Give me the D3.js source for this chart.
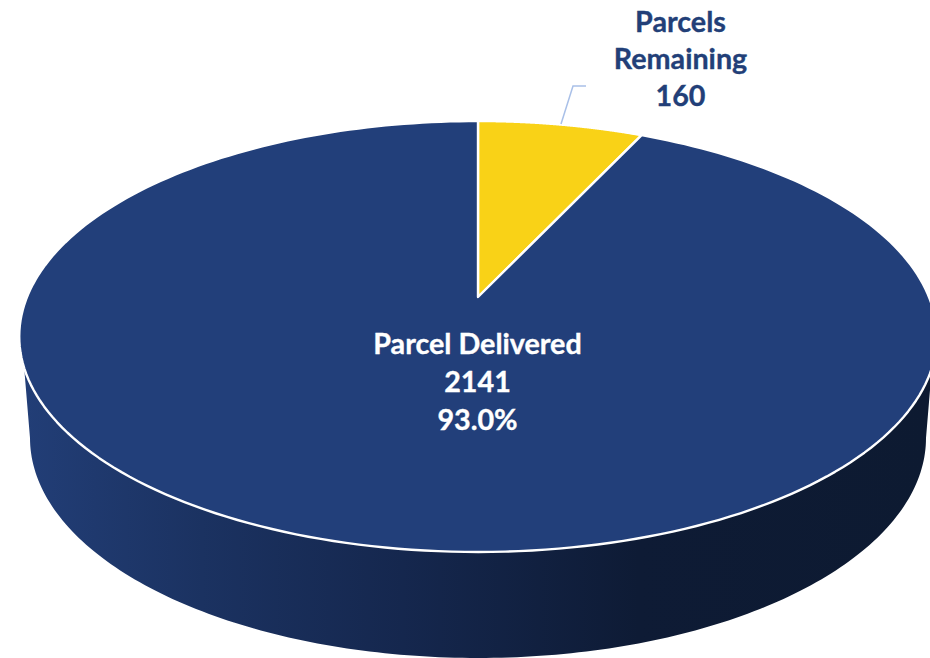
<!DOCTYPE html>
<html><head><meta charset="utf-8">
<script src="https://cdn.jsdelivr.net/npm/d3@7"></script>
<style>html,body{margin:0;padding:0;background:#fff;overflow:hidden}svg{display:block}text{font-family:Lato,"Open Sans",sans-serif;font-weight:700;text-anchor:middle}</style>
</head><body><div id="chart"></div>
<script>
const categories = ["Parcels Remaining", "Parcel Delivered"];
const values = [160, 2141];
const sliceColors = ["#f9d217", "#223f7a"];
const centerLabel = ["Parcel Delivered", "2141", "93.0%"];
const outerLabel = ["Parcels", "Remaining", "160"];

const W = 930, H = 658;
const svg = d3.select("#chart").append("svg").attr("width", W).attr("height", H);

// perspective projection of a unit disc onto the tilted pie top
const cx = 478, tipY = 297, R = 451, persp = -0.1833, ya = 153.8;
const project = (ang, r = 1) => {
  const u = r * Math.sin(ang), v = -r * Math.cos(ang), d = 1 + persp * v;
  return [cx + R * u / d, (ya * v + tipY) / d];
};
const line = d3.line();
const pie = d3.pie().sort(null)(values);
const arcPts = (a0, a1, n = 240) => d3.range(n + 1).map(i => project(a0 + (a1 - a0) * i / n));

// wall gradient
const defs = svg.append("defs");
const grad = defs.append("linearGradient").attr("id", "wall").attr("gradientUnits", "userSpaceOnUse")
  .attr("x1", 20).attr("x2", 930).attr("y1", 0).attr("y2", 0);
[[0, "#223e77"], [0.2, "#1b3261"], [0.42, "#15274e"], [0.68, "#0e1b35"], [1, "#0d1a31"]]
  .forEach(([o, c]) => grad.append("stop").attr("offset", o).attr("stop-color", c));

// wall: lower ellipse joined to the front part of the top rim
const bx = 478, by = 438, brx = 448, bry = 220;
const bottom = d3.range(180, -1, -1).map(i => {
  const t = Math.PI * i / 180;
  return [bx + brx * Math.cos(t), by + bry * Math.sin(t)];
});
const rimStart = Math.PI * 0.5 + 0.327, rimEnd = Math.PI * 1.5 - 0.327;
const wallPts = [...arcPts(rimStart, rimEnd), ...bottom];
svg.append("path").attr("d", line(wallPts) + "Z").attr("fill", "url(#wall)");

// top slices
pie.forEach((d, i) => {
  const pts = [project(0, 0), ...arcPts(d.startAngle, d.endAngle)];
  svg.append("path").attr("d", line(pts) + "Z")
    .attr("fill", sliceColors[i]).attr("stroke", "#fff").attr("stroke-width", 2.4).attr("stroke-linejoin", "round");
});

// leader
svg.append("path").attr("d", line([[561, 124], [573, 86], [586, 86]]))
  .attr("fill", "none").attr("stroke", "#a9c0e8").attr("stroke-width", 1.5);

// labels
const fs = 28.7;
const addLabel = (t, x, y, c) => svg.append("text").attr("x", x).attr("y", y)
  .attr("font-size", fs).attr("fill", c).attr("stroke", c).attr("stroke-width", 0.35).text(t);
centerLabel.forEach((t, i) => addLabel(t, 477.5, 354 + i * 38, "#fff"));
outerLabel.forEach((t, i) => addLabel(t, 680.5, 32 + i * 37, "#223f78"));
</script></body></html>
